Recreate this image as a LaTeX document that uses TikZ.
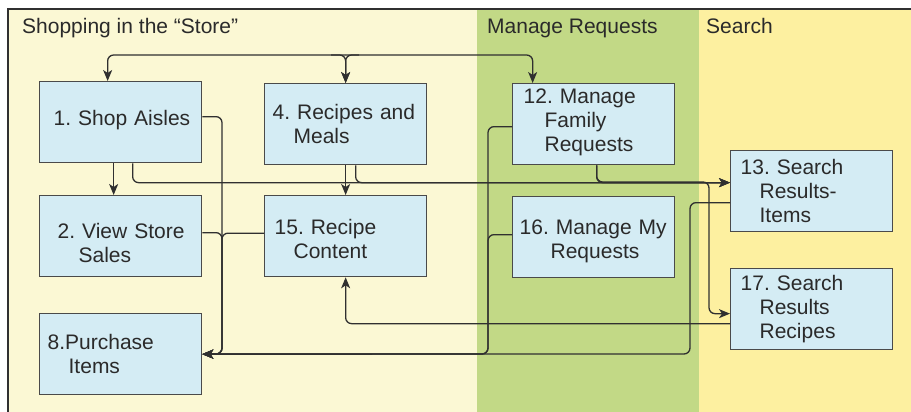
\documentclass[tikz,border=0pt]{standalone}
\usepackage{fontspec}
\setmainfont{Liberation Sans}
\usetikzlibrary{arrows.meta}

\definecolor{laneStore}{HTML}{FBF8D4}
\definecolor{laneManage}{HTML}{C2D986}
\definecolor{laneSearch}{HTML}{FDF0A0}
\definecolor{boxFill}{HTML}{D4ECF4}
\definecolor{boxEdge}{HTML}{4A4A4A}
\definecolor{ink}{HTML}{2A2A2A}
\definecolor{wire}{HTML}{303030}

% invisible struts used to nudge a block of text down (top) or up (bottom)
\newcommand\topstrut[1]{\rule{0pt}{#1}}
\newcommand\botstrut[1]{\rule[-#1]{0pt}{0pt}}

\tikzset{
  screen/.style={draw=boxEdge, line width=1.3pt, fill=boxFill, text=ink,
    font=\fontsize{21}{24}\selectfont\frenchspacing, align=left, text width=150pt,
    inner xsep=6pt, inner ysep=0pt, minimum width=162pt, minimum height=81pt,
    anchor=north west},
  lanetitle/.style={anchor=base west, inner sep=0pt, text=ink,
    font=\fontsize{21}{24}\selectfont},
  link/.style={draw=wire, line width=1.3pt, rounded corners=6pt},
  arr/.style={link, -{Stealth[length=11pt,width=9pt,inset=3pt]}}
}

\begin{document}
\begin{tikzpicture}[x=1pt, y=-1pt]
\useasboundingbox (0,0) rectangle (911,412);

% swim lanes
\fill[laneStore]  (8,9) rectangle (477,412);
\fill[laneManage] (477,9) rectangle (699,412);
\fill[laneSearch] (699,9) rectangle (911,412);
\draw[wire, line width=2pt] (8,412) -- (8,9) -- (911,9);

\node[lanetitle] (tStore)  at (22,34)  {Shopping in the “Store”};
\node[lanetitle] (tManage) at (487,34) {Manage Requests};
\node[lanetitle] (tSearch) at (706,34) {Search};

% screens
\node[screen] (b1)  at (39,81)   {\hspace*{8pt}1. Shop Aisles\botstrut{8.5pt}};
\node[screen] (b4)  at (264,83)  {\hspace*{2pt}4. Recipes and\\\hspace*{23pt}Meals};
\node[screen] (b12) at (512,83)  {\hspace*{5pt}12. Manage\\\hspace*{26pt}Family\\\hspace*{26pt}Requests\botstrut{8.5pt}};
\node[screen] (b13) at (730,150) {\hspace*{4pt}13. Search\\\hspace*{23pt}Results-\\\hspace*{23pt}Items};
\node[screen] (b2)  at (39,195)  {\topstrut{29pt}\hspace*{12pt}2. View Store\\\hspace*{33pt}Sales};
\node[screen] (b15) at (264,195) {\topstrut{20.5pt}\hspace*{4pt}15. Recipe\\\hspace*{23pt}Content};
\node[screen] (b16) at (512,196) {\topstrut{23pt}\hspace*{1pt}16. Manage My\\\hspace*{32pt}Requests};
\node[screen] (b17) at (730,268) {\hspace*{4pt}17. Search\\\hspace*{23pt}Results\\\hspace*{23pt}Recipes};
\node[screen] (b8)  at (39,313)  {\hspace*{2pt}8.Purchase\\\hspace*{23pt}Items};

% junction points
\coordinate (hub)   at (345,55);
\coordinate (split) at (709,182);
\coordinate (busL)  at (222,354);
\coordinate (busM)  at (488,354);
\coordinate (busR)  at (690,354);

% top distribution
\draw[arr] (hub) -| ([xshift=-13pt]b1.north);
\draw[arr] (hub) -| ([xshift=-61pt]b12.north);
\draw[arr] ([xshift=-14pt]hub) -| (b4.north);
\draw[arr] ([xshift=14pt]hub) -| (b4.north);

% straight drops
\draw[arr] ([xshift=-7pt]b1.south) -- ([xshift=-7pt]b2.north);
\draw[arr] (b4.south) -- (b15.north);

% into the search results
\draw[arr] ([xshift=12pt]b1.south) |- ([yshift=8.5pt]b13.west);
\draw[arr] ([xshift=10pt]b4.south) |- ([yshift=8.5pt]b13.west);
\draw[arr] ([xshift=3pt]b12.south) |- ([yshift=8.5pt]b13.west);
\draw[arr] ([xshift=3pt]b12.south) |- (split) |- ([yshift=-4.5pt]b17.west);

% towards purchase
\draw[arr] ([yshift=5.5pt]b1.east) -| (busL) -- (b8.east);
\draw[arr] ([yshift=3.5pt]b2.east) -| (busL) -- (b8.east);
\draw[arr] ([yshift=3pt]b15.west) -| (busL) -- (b8.east);
\draw[arr] ([yshift=-2.5pt]b12.west) -| (busM) -- (b8.east);
\draw[arr] ([yshift=2.5pt]b16.west) -| (busM) -- (b8.east);
\draw[arr] ([yshift=-11.5pt]b13.west) -| (busR) -- (b8.east);

% recipes search back to recipe content
\draw[arr] ([yshift=-14.5pt]b17.west) -| (b15.south);
\end{tikzpicture}
\end{document}
